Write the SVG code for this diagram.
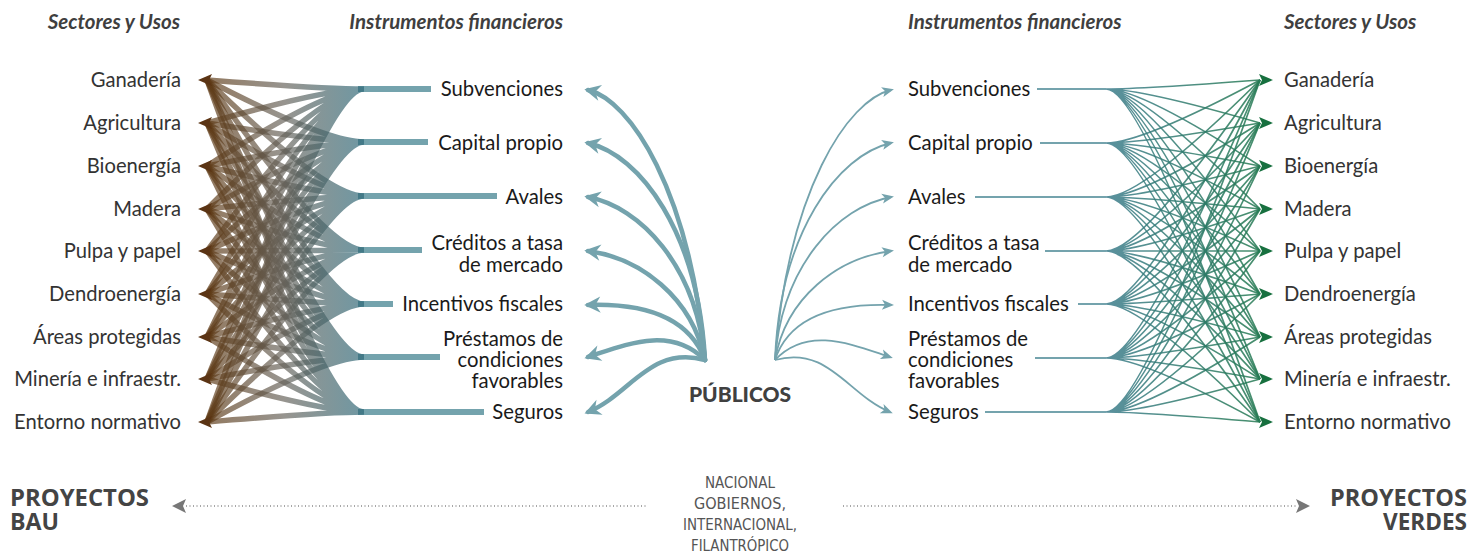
<svg xmlns="http://www.w3.org/2000/svg" width="1484" height="554" viewBox="0 0 1484 554">
<style>
.hdr{font-family:Lato,"Noto Sans",sans-serif;font-weight:bold;font-style:italic;font-size:20.5px;fill:#3f3f3f}
.sec{font-family:Lato,"Noto Sans",sans-serif;font-size:20.2px;fill:#333}
.ins{font-family:Lato,"Noto Sans",sans-serif;font-size:20.3px;fill:#1a1a1a}
.big{font-family:"Open Sans","DejaVu Sans",sans-serif;font-weight:bold;font-size:22.5px;fill:#444}
.small{font-family:"DejaVu Sans",sans-serif;font-stretch:condensed;font-size:16.5px;fill:#555}
.pub{font-family:Lato,"Noto Sans",sans-serif;font-weight:900;font-size:21px;fill:#404040}
</style>
<defs>
<linearGradient id="gl" gradientUnits="userSpaceOnUse" x1="205" y1="0" x2="363" y2="0">
<stop offset="0" stop-color="#5e3812"/><stop offset="0.5" stop-color="#66625a"/><stop offset="1" stop-color="#2b6676"/>
</linearGradient>
<linearGradient id="gr" gradientUnits="userSpaceOnUse" x1="1106" y1="0" x2="1262" y2="0">
<stop offset="0" stop-color="#3d7d8c"/><stop offset="1" stop-color="#257a52"/>
</linearGradient>
<marker id="ab" markerUnits="userSpaceOnUse" markerWidth="20" markerHeight="20" viewBox="-12 -8 16 16" refX="0" refY="0" orient="auto-start-reverse">
<path d="M3 0 L-10 -6.5 L-6 0 L-10 6.5 z" fill="#74a3ad"/>
</marker>
<marker id="as" markerUnits="userSpaceOnUse" markerWidth="16" markerHeight="16" viewBox="-12 -8 16 16" refX="0" refY="0" orient="auto">
<path d="M3 0 L-9 -5 L-6 0 L-9 5 z" fill="#74a3ad"/>
</marker>
</defs>
<rect width="1484" height="554" fill="#fff"/>

<g id="headers">
<text class="hdr" x="180" y="29" text-anchor="end">Sectores y Usos</text>
<text class="hdr" x="563" y="29" text-anchor="end">Instrumentos financieros</text>
<text class="hdr" x="908" y="29">Instrumentos financieros</text>
<text class="hdr" x="1284" y="29">Sectores y Usos</text>
</g>

<g id="connectors">
<g id="left-bars" stroke="#74a3ad" stroke-width="6">
<path d="M358 89H431M358 142H428M358 196H497M358 250H422M358 304H393M358 357H440M358 412H484"/>
</g>
<g id="left-bundle" fill="none" stroke="url(#gl)" stroke-width="5.5" stroke-opacity="0.68">
<path d="M364 89Q326 89 207 80M364 89Q326 89 207 123M364 89Q326 89 207 166M364 89Q326 89 207 209M364 89Q326 89 207 251M364 89Q326 89 207 294M364 89Q326 89 207 337M364 89Q326 89 207 379M364 89Q326 89 207 422"/>
<path d="M364 142Q326 142 207 80M364 142Q326 142 207 123M364 142Q326 142 207 166M364 142Q326 142 207 209M364 142Q326 142 207 251M364 142Q326 142 207 294M364 142Q326 142 207 337M364 142Q326 142 207 379M364 142Q326 142 207 422"/>
<path d="M364 196Q326 196 207 80M364 196Q326 196 207 123M364 196Q326 196 207 166M364 196Q326 196 207 209M364 196Q326 196 207 251M364 196Q326 196 207 294M364 196Q326 196 207 337M364 196Q326 196 207 379M364 196Q326 196 207 422"/>
<path d="M364 250Q326 250 207 80M364 250Q326 250 207 123M364 250Q326 250 207 166M364 250Q326 250 207 209M364 250Q326 250 207 251M364 250Q326 250 207 294M364 250Q326 250 207 337M364 250Q326 250 207 379M364 250Q326 250 207 422"/>
<path d="M364 304Q326 304 207 80M364 304Q326 304 207 123M364 304Q326 304 207 166M364 304Q326 304 207 209M364 304Q326 304 207 251M364 304Q326 304 207 294M364 304Q326 304 207 337M364 304Q326 304 207 379M364 304Q326 304 207 422"/>
<path d="M364 357Q326 357 207 80M364 357Q326 357 207 123M364 357Q326 357 207 166M364 357Q326 357 207 209M364 357Q326 357 207 251M364 357Q326 357 207 294M364 357Q326 357 207 337M364 357Q326 357 207 379M364 357Q326 357 207 422"/>
<path d="M364 412Q326 412 207 80M364 412Q326 412 207 123M364 412Q326 412 207 166M364 412Q326 412 207 209M364 412Q326 412 207 251M364 412Q326 412 207 294M364 412Q326 412 207 337M364 412Q326 412 207 379M364 412Q326 412 207 422"/>
</g>
<g id="left-arrows" fill="#5b3414">
<path d="M198 80l14-6-3 6 3 6zM198 123l14-6-3 6 3 6zM198 166l14-6-3 6 3 6zM198 209l14-6-3 6 3 6zM198 251l14-6-3 6 3 6zM198 294l14-6-3 6 3 6zM198 337l14-6-3 6 3 6zM198 379l14-6-3 6 3 6zM198 422l14-6-3 6 3 6z"/>
</g>

<g id="center-left" fill="none" stroke="#74a3ad" stroke-width="4.5" stroke-linecap="round" marker-start="url(#ab)">
<path d="M588 90C630 100 690 190 705 360"/>
<path d="M588 143C640 155 698 232 705 360"/>
<path d="M588 197C640 207 696 265 705 360"/>
<path d="M588 251C640 258 692 297 705 360"/>
<path d="M588 305C650 303 690 320 705 360"/>
<path d="M588 357C625 345 670 325 705 360"/>
<path d="M588 412C630 395 650 345 705 360"/>
</g>
<g id="center-right" fill="none" stroke="#74a3ad" stroke-width="1.8" marker-end="url(#as)">
<path d="M775 360C788 190 848 100 891 90"/>
<path d="M775 360C780 232 838 155 891 143"/>
<path d="M775 360C782 265 838 207 891 197"/>
<path d="M775 360C786 297 838 258 891 251"/>
<path d="M775 360C788 320 828 303 891 305"/>
<path d="M775 360C808 325 853 345 890 357"/>
<path d="M775 360C828 345 848 395 890 412"/>
</g>

<g id="right-feeds" stroke="#74a3ad" stroke-width="2">
<path d="M1037 89H1106M1040 143H1106M975 197H1106M1045 251H1106M1078 304H1106M1035 358H1106M985 412H1106"/>
</g>
<g id="right-bundle" fill="none" stroke="url(#gr)" stroke-width="1.7" stroke-opacity="0.85">
<path d="M1106 89Q1142 89 1260 80M1106 89Q1142 89 1260 123M1106 89Q1142 89 1260 166M1106 89Q1142 89 1260 209M1106 89Q1142 89 1260 251M1106 89Q1142 89 1260 294M1106 89Q1142 89 1260 337M1106 89Q1142 89 1260 379M1106 89Q1142 89 1260 422"/>
<path d="M1106 143Q1142 143 1260 80M1106 143Q1142 143 1260 123M1106 143Q1142 143 1260 166M1106 143Q1142 143 1260 209M1106 143Q1142 143 1260 251M1106 143Q1142 143 1260 294M1106 143Q1142 143 1260 337M1106 143Q1142 143 1260 379M1106 143Q1142 143 1260 422"/>
<path d="M1106 197Q1142 197 1260 80M1106 197Q1142 197 1260 123M1106 197Q1142 197 1260 166M1106 197Q1142 197 1260 209M1106 197Q1142 197 1260 251M1106 197Q1142 197 1260 294M1106 197Q1142 197 1260 337M1106 197Q1142 197 1260 379M1106 197Q1142 197 1260 422"/>
<path d="M1106 251Q1142 251 1260 80M1106 251Q1142 251 1260 123M1106 251Q1142 251 1260 166M1106 251Q1142 251 1260 209M1106 251Q1142 251 1260 251M1106 251Q1142 251 1260 294M1106 251Q1142 251 1260 337M1106 251Q1142 251 1260 379M1106 251Q1142 251 1260 422"/>
<path d="M1106 304Q1142 304 1260 80M1106 304Q1142 304 1260 123M1106 304Q1142 304 1260 166M1106 304Q1142 304 1260 209M1106 304Q1142 304 1260 251M1106 304Q1142 304 1260 294M1106 304Q1142 304 1260 337M1106 304Q1142 304 1260 379M1106 304Q1142 304 1260 422"/>
<path d="M1106 358Q1142 358 1260 80M1106 358Q1142 358 1260 123M1106 358Q1142 358 1260 166M1106 358Q1142 358 1260 209M1106 358Q1142 358 1260 251M1106 358Q1142 358 1260 294M1106 358Q1142 358 1260 337M1106 358Q1142 358 1260 379M1106 358Q1142 358 1260 422"/>
<path d="M1106 412Q1142 412 1260 80M1106 412Q1142 412 1260 123M1106 412Q1142 412 1260 166M1106 412Q1142 412 1260 209M1106 412Q1142 412 1260 251M1106 412Q1142 412 1260 294M1106 412Q1142 412 1260 337M1106 412Q1142 412 1260 379M1106 412Q1142 412 1260 422"/>
</g>
<g id="right-arrows" fill="#17703f">
<path d="M1273 80l-14-6 3 6-3 6zM1273 123l-14-6 3 6-3 6zM1273 166l-14-6 3 6-3 6zM1273 209l-14-6 3 6-3 6zM1273 251l-14-6 3 6-3 6zM1273 294l-14-6 3 6-3 6zM1273 337l-14-6 3 6-3 6zM1273 379l-14-6 3 6-3 6zM1273 422l-14-6 3 6-3 6z"/>
</g>

<g id="bottom-arrows">
<path d="M186 506H646M843 506H1297" stroke="#8a8a8a" stroke-width="1.3" stroke-dasharray="1 2.5" fill="none"/>
<path d="M172 506l14-7-3 7 3 7z" fill="#777"/>
<path d="M1310 506l-14-7 3 7-3 7z" fill="#777"/>
</g>
</g>

<g id="left-sectors">
<text x="181" y="87" text-anchor="end" class="sec">Ganadería</text>
<text x="181" y="130" text-anchor="end" class="sec">Agricultura</text>
<text x="181" y="173" text-anchor="end" class="sec">Bioenergía</text>
<text x="181" y="216" text-anchor="end" class="sec">Madera</text>
<text x="181" y="258" text-anchor="end" class="sec">Pulpa y papel</text>
<text x="181" y="301" text-anchor="end" class="sec">Dendroenergía</text>
<text x="181" y="344" text-anchor="end" class="sec">Áreas protegidas</text>
<text x="181" y="386" text-anchor="end" class="sec">Minería e infraestr.</text>
<text x="181" y="429" text-anchor="end" class="sec">Entorno normativo</text>
</g>

<g id="left-instruments">
<text x="563" y="96" text-anchor="end" class="ins">Subvenciones</text>
<text x="563" y="150" text-anchor="end" class="ins">Capital propio</text>
<text x="563" y="204" text-anchor="end" class="ins">Avales</text>
<text x="563" y="250" text-anchor="end" class="ins">Créditos a tasa</text>
<text x="563" y="272" text-anchor="end" class="ins">de mercado</text>
<text x="563" y="311" text-anchor="end" class="ins">Incentivos fiscales</text>
<text x="563" y="346" text-anchor="end" class="ins">Préstamos de</text>
<text x="563" y="367" text-anchor="end" class="ins">condiciones</text>
<text x="563" y="388" text-anchor="end" class="ins">favorables</text>
<text x="563" y="419" text-anchor="end" class="ins">Seguros</text>
</g>

<g id="publicos">
<text x="740" y="402" text-anchor="middle" class="pub">PÚBLICOS</text>
</g>

<g id="right-instruments">
<text x="908" y="96" class="ins">Subvenciones</text>
<text x="908" y="150" class="ins">Capital propio</text>
<text x="908" y="204" class="ins">Avales</text>
<text x="908" y="250" class="ins">Créditos a tasa</text>
<text x="908" y="272" class="ins">de mercado</text>
<text x="908" y="311" class="ins">Incentivos fiscales</text>
<text x="908" y="346" class="ins">Préstamos de</text>
<text x="908" y="367" class="ins">condiciones</text>
<text x="908" y="388" class="ins">favorables</text>
<text x="908" y="419" class="ins">Seguros</text>
</g>

<g id="right-sectors">
<text x="1284" y="87" class="sec">Ganadería</text>
<text x="1284" y="130" class="sec">Agricultura</text>
<text x="1284" y="173" class="sec">Bioenergía</text>
<text x="1284" y="216" class="sec">Madera</text>
<text x="1284" y="258" class="sec">Pulpa y papel</text>
<text x="1284" y="301" class="sec">Dendroenergía</text>
<text x="1284" y="344" class="sec">Áreas protegidas</text>
<text x="1284" y="386" class="sec">Minería e infraestr.</text>
<text x="1284" y="429" class="sec">Entorno normativo</text>
</g>

<g id="bau">
<text x="10" y="506" class="big" textLength="139" lengthAdjust="spacingAndGlyphs">PROYECTOS</text>
<text x="10" y="530" class="big" textLength="49" lengthAdjust="spacingAndGlyphs">BAU</text>
</g>
<g id="verdes">
<text x="1330" y="506" class="big" textLength="137" lengthAdjust="spacingAndGlyphs">PROYECTOS</text>
<text x="1383" y="530" class="big" textLength="84" lengthAdjust="spacingAndGlyphs">VERDES</text>
</g>
<g id="origin-note">
<text x="740" y="488" text-anchor="middle" class="small" textLength="70" lengthAdjust="spacingAndGlyphs">NACIONAL</text>
<text x="740" y="509" text-anchor="middle" class="small" textLength="92" lengthAdjust="spacingAndGlyphs">GOBIERNOS,</text>
<text x="740" y="530" text-anchor="middle" class="small" textLength="114" lengthAdjust="spacingAndGlyphs">INTERNACIONAL,</text>
<text x="740" y="551" text-anchor="middle" class="small" textLength="98" lengthAdjust="spacingAndGlyphs">FILANTRÓPICO</text>
</g>
</svg>
